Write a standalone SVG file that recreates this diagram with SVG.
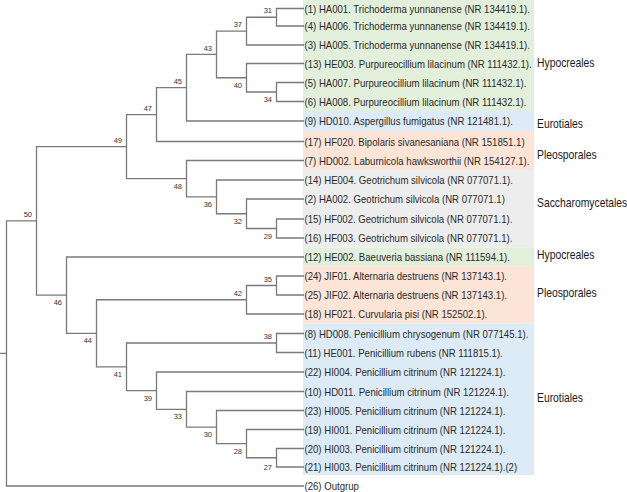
<svg xmlns="http://www.w3.org/2000/svg" width="627" height="492" viewBox="0 0 627 492">
<style>
.br{fill:none;stroke:#7a7a7a;stroke-width:1.3}
.lf{font-family:"Liberation Sans",Arial,sans-serif;font-size:11.5px;fill:#2a2a2a}
.gp{font-family:"Liberation Sans",Arial,sans-serif;font-size:12.4px;fill:#1a1a1a}
.nn{font-family:"Liberation Sans",Arial,sans-serif;font-size:7.5px;fill:#333;text-anchor:end}
</style>
<rect width="627" height="492" fill="#fff"/>
<g id="bands">
<rect x="303" y="0" width="231" height="111" fill="#e2efda"/>
<rect x="303" y="111" width="231" height="20" fill="#ddebf7"/>
<rect x="303" y="131" width="231" height="39" fill="#fce4d6"/>
<rect x="303" y="170" width="231" height="77.5" fill="#ededed"/>
<rect x="303" y="247.5" width="231" height="19" fill="#e2efda"/>
<rect x="303" y="266.5" width="231" height="57" fill="#fce4d6"/>
<rect x="303" y="323.5" width="231" height="151.5" fill="#ddebf7"/>
</g>
<g id="connectors" class="br">
<path d="M0 353.4H6.5"/>
<path d="M36.5 220.9H6.5V486H304"/>
<path d="M126.5 146.65H36.5V295.1H66.5"/>
<path d="M156.5 114.6H126.5V178.7H186.5"/>
<path d="M186.5 87.7H156.5V141.5H304"/>
<path d="M216.5 54.4H186.5V121H304"/>
<path d="M246.5 31.1H216.5V77.75H246.5"/>
<path d="M276.5 17.25H246.5V45H304"/>
<path d="M304 8.5H276.5V26H304"/>
<path d="M304 63.5H246.5V92H276.5"/>
<path d="M304 82.5H276.5V101.5H304"/>
<path d="M304 160.5H186.5V196.9H216.5"/>
<path d="M304 180H216.5V213.75H246.5"/>
<path d="M304 199H246.5V228.5H276.5"/>
<path d="M304 219H276.5V238H304"/>
<path d="M304 257H66.5V333.3H96.5"/>
<path d="M246.5 299.75H96.5V366.8H126.5"/>
<path d="M276.5 285.5H246.5V314H304"/>
<path d="M304 276H276.5V295H304"/>
<path d="M276.5 343H126.5V390.65H156.5"/>
<path d="M304 333.5H276.5V352.5H304"/>
<path d="M304 372H156.5V409.3H186.5"/>
<path d="M304 391.5H186.5V427.1H216.5"/>
<path d="M304 410.5H216.5V443.6H246.5"/>
<path d="M304 429.5H246.5V457.75H276.5"/>
<path d="M304 448.5H276.5V467H304"/>
</g>
<g id="internal-nodes">
<g id="n50"><text class="nn" x="32" y="217.1">50</text></g>
<g id="n49"><text class="nn" x="122" y="142.85">49</text></g>
<g id="n47"><text class="nn" x="152" y="110.8">47</text></g>
<g id="n45"><text class="nn" x="182" y="83.9">45</text></g>
<g id="n43"><text class="nn" x="212" y="50.6">43</text></g>
<g id="n37"><text class="nn" x="242" y="27.3">37</text></g>
<g id="n31"><text class="nn" x="272" y="13.45">31</text></g>
<g id="n40"><text class="nn" x="242" y="87.75">40</text></g>
<g id="n34"><text class="nn" x="272" y="102">34</text></g>
<g id="n48"><text class="nn" x="182" y="188.7">48</text></g>
<g id="n36"><text class="nn" x="212" y="206.9">36</text></g>
<g id="n32"><text class="nn" x="242" y="223.75">32</text></g>
<g id="n29"><text class="nn" x="272" y="238.5">29</text></g>
<g id="n46"><text class="nn" x="62" y="305.1">46</text></g>
<g id="n44"><text class="nn" x="92" y="343.3">44</text></g>
<g id="n42"><text class="nn" x="242" y="295.95">42</text></g>
<g id="n35"><text class="nn" x="272" y="281.7">35</text></g>
<g id="n41"><text class="nn" x="122" y="376.8">41</text></g>
<g id="n38"><text class="nn" x="272" y="339.2">38</text></g>
<g id="n39"><text class="nn" x="152" y="400.65">39</text></g>
<g id="n33"><text class="nn" x="182" y="419.3">33</text></g>
<g id="n30"><text class="nn" x="212" y="437.1">30</text></g>
<g id="n28"><text class="nn" x="242" y="453.6">28</text></g>
<g id="n27"><text class="nn" x="272" y="469.5">27</text></g>
</g>
<g id="leaves">
<g id="leaf-1" transform="translate(304.5 12.5) scale(0.835 1)"><text class="lf">(1) HA001. Trichoderma yunnanense (NR 134419.1).</text></g>
<g id="leaf-4" transform="translate(304.5 30) scale(0.835 1)"><text class="lf">(4) HA006. Trichoderma yunnanense (NR 134419.1).</text></g>
<g id="leaf-3" transform="translate(304.5 49) scale(0.835 1)"><text class="lf">(3) HA005. Trichoderma yunnanense (NR 134419.1).</text></g>
<g id="leaf-13" transform="translate(304.5 67.5) scale(0.835 1)"><text class="lf">(13) HE003. Purpureocillium lilacinum (NR 111432.1).</text></g>
<g id="leaf-5" transform="translate(304.5 86.5) scale(0.835 1)"><text class="lf">(5) HA007. Purpureocillium lilacinum (NR 111432.1).</text></g>
<g id="leaf-6" transform="translate(304.5 105.5) scale(0.835 1)"><text class="lf">(6) HA008. Purpureocillium lilacinum (NR 111432.1).</text></g>
<g id="leaf-9" transform="translate(304.5 125) scale(0.835 1)"><text class="lf">(9) HD010. Aspergillus fumigatus (NR 121481.1).</text></g>
<g id="leaf-17" transform="translate(304.5 145.5) scale(0.835 1)"><text class="lf">(17) HF020. Bipolaris sivanesaniana (NR 151851.1)</text></g>
<g id="leaf-7" transform="translate(304.5 164.5) scale(0.835 1)"><text class="lf">(7) HD002. Laburnicola hawksworthii (NR 154127.1).</text></g>
<g id="leaf-14" transform="translate(304.5 184) scale(0.835 1)"><text class="lf">(14) HE004. Geotrichum silvicola (NR 077071.1).</text></g>
<g id="leaf-2" transform="translate(304.5 203) scale(0.835 1)"><text class="lf">(2) HA002. Geotrichum silvicola (NR 077071.1)</text></g>
<g id="leaf-15" transform="translate(304.5 223) scale(0.835 1)"><text class="lf">(15) HF002. Geotrichum silvicola (NR 077071.1).</text></g>
<g id="leaf-16" transform="translate(304.5 242) scale(0.835 1)"><text class="lf">(16) HF003. Geotrichum silvicola (NR 077071.1).</text></g>
<g id="leaf-12" transform="translate(304.5 261) scale(0.835 1)"><text class="lf">(12) HE002. Baeuveria bassiana (NR 111594.1).</text></g>
<g id="leaf-24" transform="translate(304.5 280) scale(0.835 1)"><text class="lf">(24) JIF01. Alternaria destruens (NR 137143.1).</text></g>
<g id="leaf-25" transform="translate(304.5 299) scale(0.835 1)"><text class="lf">(25) JIF02. Alternaria destruens (NR 137143.1).</text></g>
<g id="leaf-18" transform="translate(304.5 318) scale(0.835 1)"><text class="lf">(18) HF021. Curvularia pisi (NR 152502.1).</text></g>
<g id="leaf-8" transform="translate(304.5 337.5) scale(0.835 1)"><text class="lf">(8) HD008. Penicillium chrysogenum (NR 077145.1).</text></g>
<g id="leaf-11" transform="translate(304.5 356.5) scale(0.835 1)"><text class="lf">(11) HE001. Penicillium rubens (NR 111815.1).</text></g>
<g id="leaf-22" transform="translate(304.5 376) scale(0.835 1)"><text class="lf">(22) HI004. Penicillium citrinum (NR 121224.1).</text></g>
<g id="leaf-10" transform="translate(304.5 395.5) scale(0.835 1)"><text class="lf">(10) HD011. Penicillium citrinum (NR 121224.1).</text></g>
<g id="leaf-23" transform="translate(304.5 414.5) scale(0.835 1)"><text class="lf">(23) HI005. Penicillium citrinum (NR 121224.1).</text></g>
<g id="leaf-19" transform="translate(304.5 433.5) scale(0.835 1)"><text class="lf">(19) HI001. Penicillium citrinum (NR 121224.1).</text></g>
<g id="leaf-20" transform="translate(304.5 452.5) scale(0.835 1)"><text class="lf">(20) HI003. Penicillium citrinum (NR 121224.1).</text></g>
<g id="leaf-21" transform="translate(304.5 471) scale(0.835 1)"><text class="lf">(21) HI003. Penicillium citrinum (NR 121224.1).(2)</text></g>
<g id="leaf-26" transform="translate(304.5 490) scale(0.835 1)"><text class="lf">(26) Outgrup</text></g>
</g>
<g id="groups">
<g id="g-hypo1" transform="translate(537 67) scale(0.835 1)"><text class="gp">Hypocreales</text></g>
<g id="g-euro1" transform="translate(537 128.3) scale(0.835 1)"><text class="gp">Eurotiales</text></g>
<g id="g-pleo1" transform="translate(537 159.3) scale(0.835 1)"><text class="gp">Pleosporales</text></g>
<g id="g-sacc" transform="translate(537 207.3) scale(0.835 1)"><text class="gp">Saccharomycetales</text></g>
<g id="g-hypo2" transform="translate(537 259.3) scale(0.835 1)"><text class="gp">Hypocreales</text></g>
<g id="g-pleo2" transform="translate(537 297) scale(0.835 1)"><text class="gp">Pleosporales</text></g>
<g id="g-euro2" transform="translate(537 402.3) scale(0.835 1)"><text class="gp">Eurotiales</text></g>
</g>
</svg>
